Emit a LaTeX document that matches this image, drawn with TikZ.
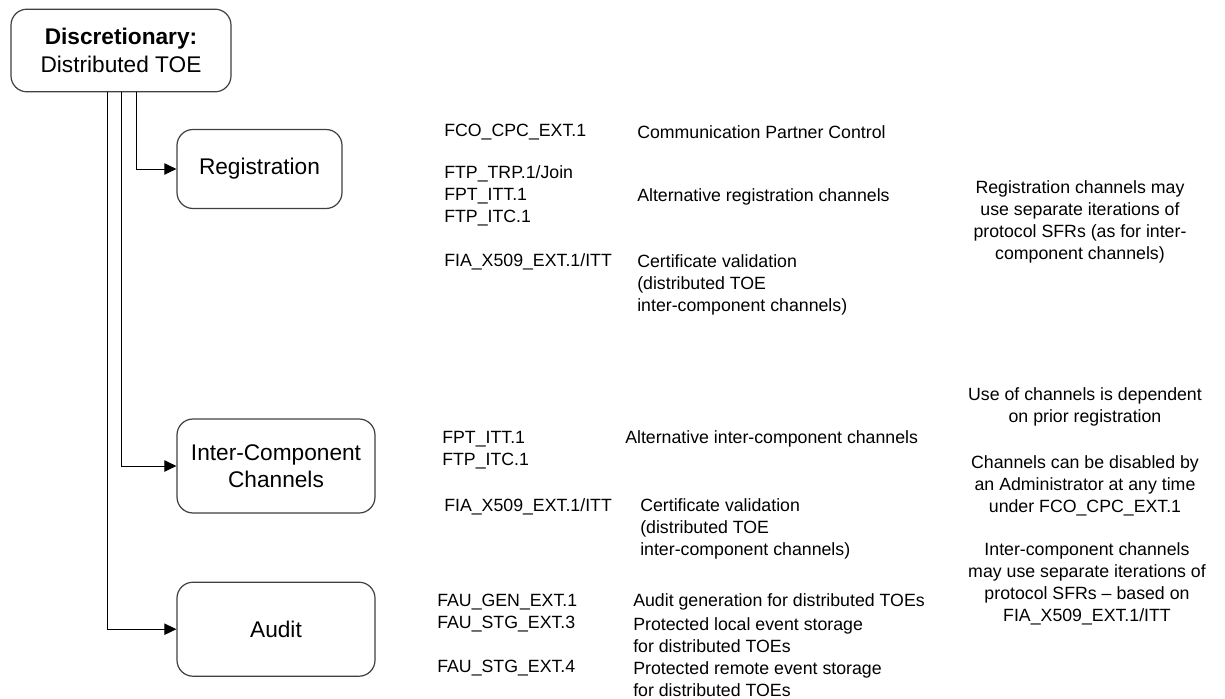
\documentclass[tikz,border=0pt]{standalone}
\usepackage{fontspec}
\setmainfont{Liberation Sans}
\usepackage{xcolor}
\usetikzlibrary{positioning,calc,arrows.meta}

\begin{document}
\begin{tikzpicture}[
    x=0.75pt, y=-0.75pt,
    topic/.style={rectangle, rounded corners=12pt, draw=black!75, line width=0.9pt, fill=white, align=center, font=\fontsize{17}{20.5}\selectfont},
    sfr/.style={anchor=west, inner sep=0pt, align=left, font=\fontsize{13.3}{16.5}\selectfont},
    note/.style={inner sep=0pt, align=center, font=\fontsize{13.3}{16.5}\selectfont},
    arrow/.style={-{Triangle[length=9pt,width=8.5pt]}, line width=0.75pt},
    node distance=51pt
]
\useasboundingbox (0,0) rectangle (1225,699);

% Root (top left)
\node[topic, minimum width=165pt, minimum height=62pt] (root) at (121,50.5) {\textbf{Discretionary:}\\Distributed TOE};

% Topic boxes (left column)
\node[topic, minimum width=123.75pt, minimum height=59.25pt] (reg) at (259.5,169) {Registration};
\node[topic, minimum width=148.5pt, minimum height=70.5pt] (inter) at (276,466) {Inter-Component\\Channels};
\node[topic, minimum width=148.5pt, minimum height=70.5pt, below=of inter] (audit) {Audit};

% Branches from root
\draw[arrow] ($(root.south)+(15,0)$) |- (reg.west);
\draw[arrow] (root.south) |- (inter.west);
\draw[arrow] ($(root.south)+(-14,0)$) |- (audit.west);

% Registration SFRs
\node[sfr] (cpc) at (444,132) {FCO\_CPC\_EXT.1};
\node[sfr] (cpcd) at (637,132) {Communication Partner Control};
\node[sfr] (regch) at (444,196) {FTP\_TRP.1/Join\\FPT\_ITT.1\\FTP\_ITC.1};
\node[sfr] (regchd) at (637,197) {Alternative registration channels};
\node[sfr] (regx) at (444,262) {FIA\_X509\_EXT.1/ITT};
\node[sfr] (regxd) at (637,284.5) {Certificate validation\\(distributed TOE\\inter-component channels)};

% Inter-component SFRs
\node[sfr] (itch) at (442,450.5) {FPT\_ITT.1\\FTP\_ITC.1};
\node[sfr] (itchd) at (625,439) {Alternative inter-component channels};
\node[sfr] (itx) at (444,507) {FIA\_X509\_EXT.1/ITT};
\node[sfr] (itxd) at (640,528.5) {Certificate validation\\(distributed TOE\\inter-component channels)};

% Audit SFRs
\node[sfr] (gen) at (437,602) {FAU\_GEN\_EXT.1};
\node[sfr] (gend) at (633,602) {Audit generation for distributed TOEs};
\node[sfr] (stga) at (437,624) {FAU\_STG\_EXT.3};
\node[sfr] (stgad) at (633,635.5) {Protected local event storage\\for distributed TOEs};
\node[sfr] (stgb) at (437,668) {FAU\_STG\_EXT.4};
\node[sfr] (stgbd) at (633,679) {Protected remote event storage\\for distributed TOEs};

% Notes (right)
\node[note] (regnote) at (1080,221.5) {Registration channels may\\use separate iterations of\\protocol SFRs (as for inter-\\component channels)};
\node[note] (usenote) at (1085,407) {Use of channels is dependent\\on prior registration};
\node[note] (offnote) at (1085,485.5) {Channels can be disabled by\\an Administrator at any time\\under FCO\_CPC\_EXT.1};
\node[note] (itnote) at (1087,583.5) {Inter-component channels\\may use separate iterations of\\protocol SFRs -- based on\\FIA\_X509\_EXT.1/ITT};

\end{tikzpicture}
\end{document}
